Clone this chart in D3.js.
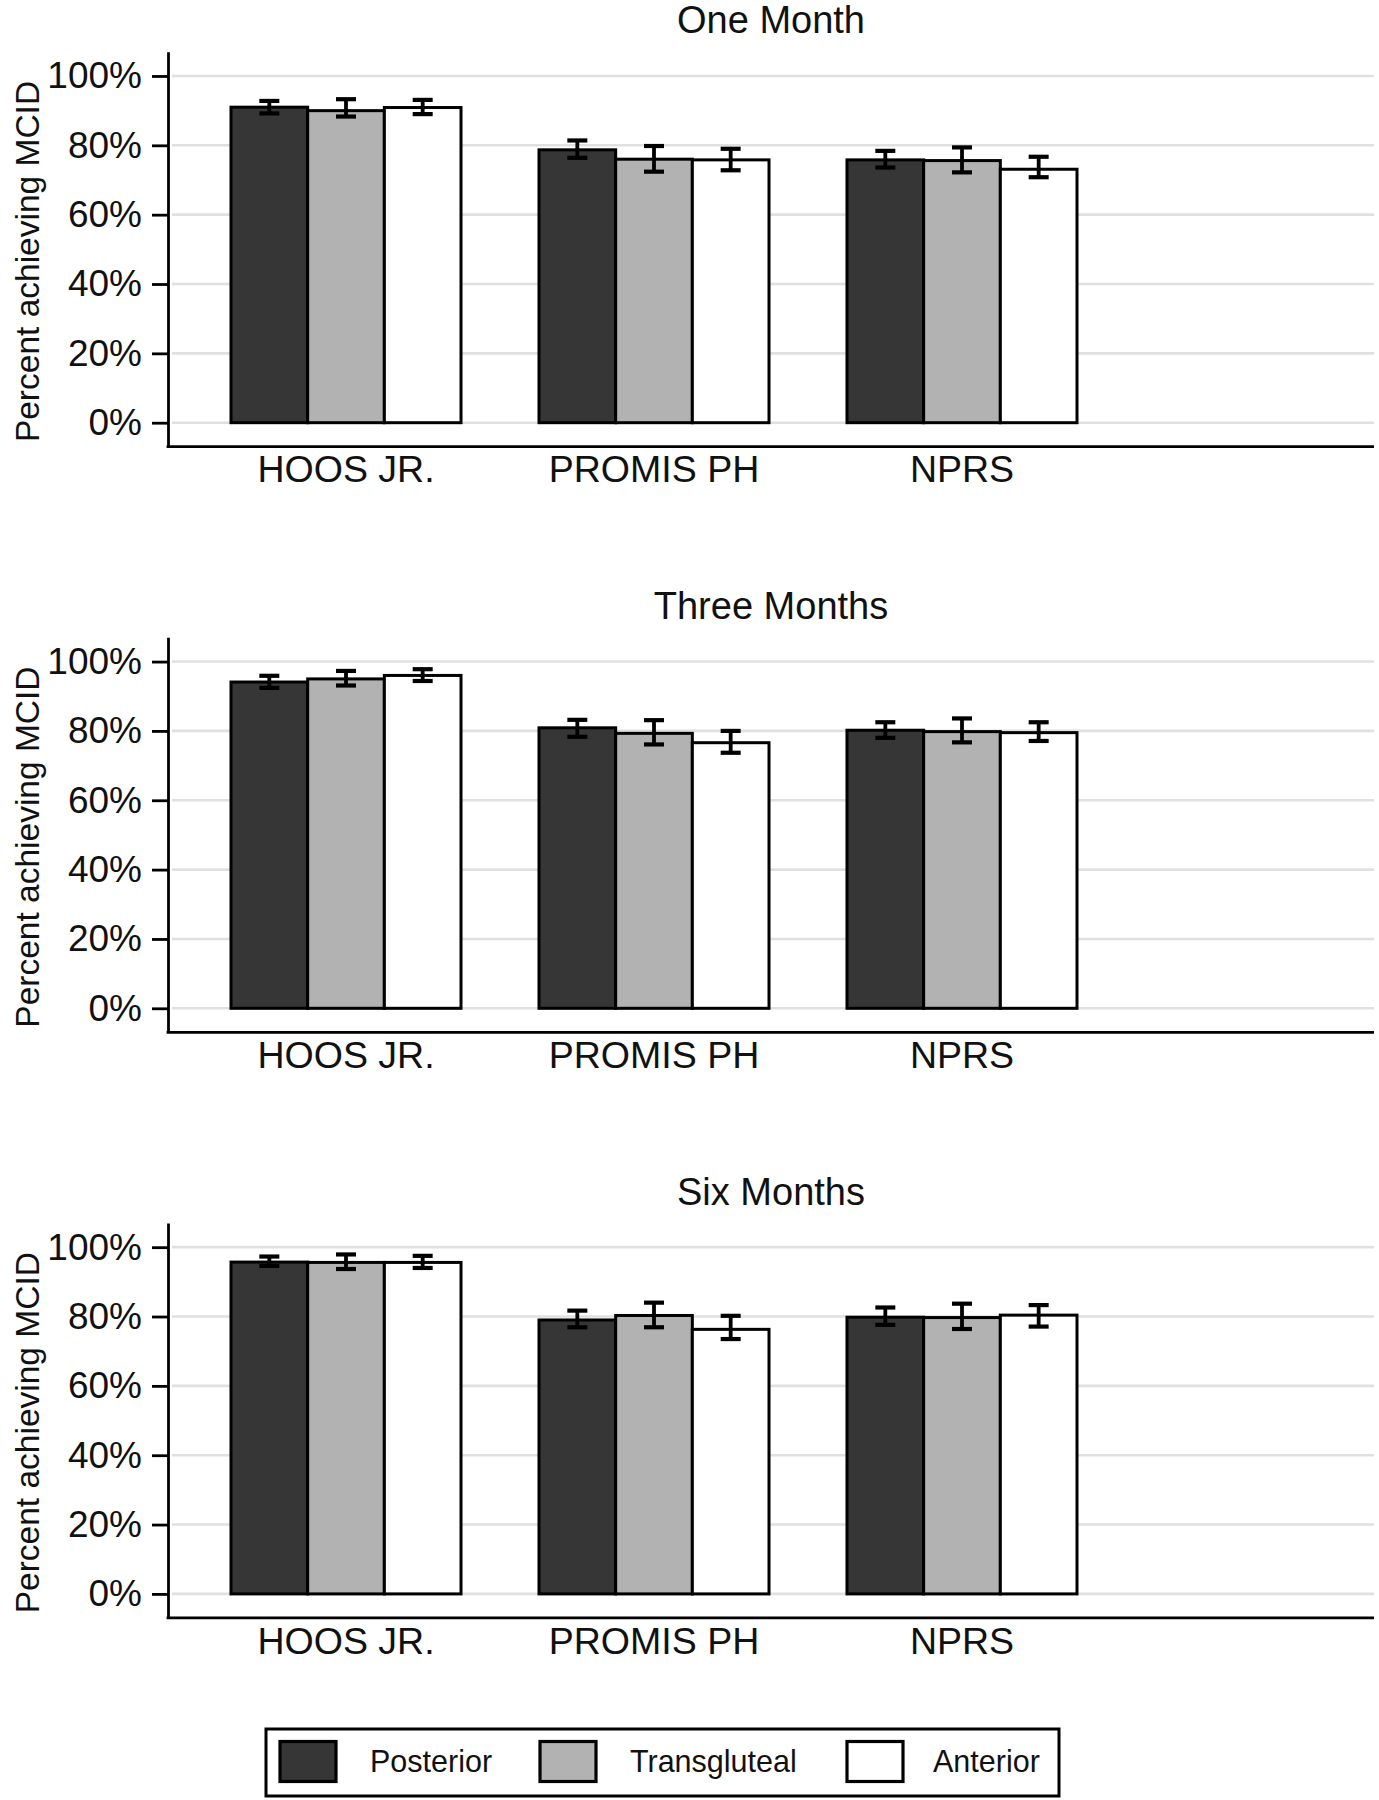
<!DOCTYPE html>
<html>
<head>
<meta charset="utf-8">
<script src="https://cdn.jsdelivr.net/npm/d3@7"></script>
<style>
  html, body { margin: 0; padding: 0; background: #fff; }
  svg { display: block; font-family: "Liberation Sans", Arial, sans-serif; }
</style>
</head>
<body>
<svg id="chart" width="1379" height="1800"></svg>
<script>
// ---------- data ----------
const categories = ["HOOS JR.", "PROMIS PH", "NPRS"];
const seriesNames = ["Posterior", "Transgluteal", "Anterior"];
const seriesColors = ["#363636", "#b2b2b2", "#ffffff"];
const panelTitles = ["One Month", "Three Months", "Six Months"];
const yTicks = [0, 20, 40, 60, 80, 100];
const yTitle = "Percent achieving MCID";

// rows = series (Posterior, Transgluteal, Anterior), cols = categories
const meanOneMonth = [[91.0, 78.7, 75.8], [90.0, 76.0, 75.6], [90.9, 75.8, 73.1]];
const lowOneMonth  = [[89.2, 76.4, 73.6], [88.3, 72.4, 72.2], [89.0, 72.8, 70.8]];
const highOneMonth = [[92.8, 81.4, 78.4], [93.3, 79.8, 79.4], [93.1, 79.0, 76.7]];

const meanThreeMonths = [[94.1, 80.9, 80.2], [95.0, 79.3, 79.8], [96.0, 76.6, 79.5]];
const lowThreeMonths  = [[92.4, 78.3, 78.0], [93.1, 76.1, 76.7], [94.4, 73.7, 77.1]];
const highThreeMonths = [[95.9, 83.2, 82.5], [97.3, 83.1, 83.6], [97.8, 80.0, 82.5]];

const meanSixMonths = [[95.7, 79.0, 79.8], [95.6, 80.3, 79.7], [95.6, 76.3, 80.4]];
const lowSixMonths  = [[94.6, 76.9, 77.6], [93.7, 76.9, 76.4], [94.0, 73.5, 77.1]];
const highSixMonths = [[97.3, 81.7, 82.6], [97.9, 84.0, 83.7], [97.5, 80.2, 83.3]];

const panelMeans = [meanOneMonth, meanThreeMonths, meanSixMonths];
const panelLows  = [lowOneMonth, lowThreeMonths, lowSixMonths];
const panelHighs = [highOneMonth, highThreeMonths, highSixMonths];

// ---------- layout ----------
const svg = d3.select("#chart");
const panelStep = 585.6;
const axisX = 168, plotRight = 1374;
const axisTop = 51.7, axisBottom = 446.7;

const x = d3.scaleBand().domain(categories).range([231, 1077]).paddingInner(0.2532).paddingOuter(0);
const xs = d3.scaleBand().domain(seriesNames).range([0, x.bandwidth()]).padding(0);
const y = d3.scaleLinear().domain([-6.92, 107.0]).range([axisBottom, axisTop]);
const color = d3.scaleOrdinal().domain(seriesNames).range(seriesColors);

panelTitles.forEach((title, p) => {
  const g = svg.append("g").attr("transform", `translate(0,${p * panelStep})`);

  // title
  g.append("text").attr("x", (axisX + plotRight) / 2).attr("y", 33.3)
    .attr("text-anchor", "middle").attr("font-size", 38).attr("fill", "#111")
    .text(title);

  // y title
  g.append("text").attr("transform", `translate(38.5,261.5) rotate(-90)`)
    .attr("text-anchor", "middle").attr("font-size", 33.5).attr("fill", "#111")
    .text(yTitle);

  // gridlines
  g.append("g").selectAll("line").data(yTicks).join("line")
    .attr("x1", axisX + 4).attr("x2", plotRight)
    .attr("y1", d => y(d)).attr("y2", d => y(d))
    .attr("stroke", "#e0e0e0").attr("stroke-width", 2.6);

  // bars
  const mean = panelMeans[p], lo = panelLows[p], hi = panelHighs[p];
  const rows = [];
  seriesNames.forEach((s, si) => categories.forEach((c, ci) => {
    rows.push({ s, c, v: mean[si][ci], lo: lo[si][ci], hi: hi[si][ci] });
  }));

  g.append("g").selectAll("rect").data(rows).join("rect")
    .attr("x", d => x(d.c) + xs(d.s))
    .attr("y", d => y(d.v))
    .attr("width", xs.bandwidth())
    .attr("height", d => y(0) - y(d.v))
    .attr("fill", d => color(d.s))
    .attr("stroke", "#000").attr("stroke-width", 3);

  // error bars
  const eb = g.append("g").attr("stroke", "#000").attr("stroke-width", 3.8);
  const cx = d => x(d.c) + xs(d.s) + xs.bandwidth() / 2;
  eb.selectAll("line.v").data(rows).join("line").attr("class", "v")
    .attr("x1", cx).attr("x2", cx).attr("y1", d => y(d.lo)).attr("y2", d => y(d.hi));
  eb.selectAll("line.t").data(rows).join("line").attr("class", "t")
    .attr("x1", d => cx(d) - 10).attr("x2", d => cx(d) + 10)
    .attr("y1", d => y(d.hi)).attr("y2", d => y(d.hi)).attr("stroke-width", 4.2);
  eb.selectAll("line.b").data(rows).join("line").attr("class", "b")
    .attr("x1", d => cx(d) - 10).attr("x2", d => cx(d) + 10)
    .attr("y1", d => y(d.lo)).attr("y2", d => y(d.lo)).attr("stroke-width", 4.2);

  // y axis
  const yAxis = g.append("g").attr("transform", `translate(${axisX},0)`)
    .call(d3.axisLeft(y).tickValues(yTicks).tickFormat(d => d + "%").tickSize(16).tickPadding(10).tickSizeOuter(0));
  yAxis.select(".domain").attr("stroke", "#000").attr("stroke-width", 2.8);
  yAxis.selectAll(".tick line").attr("stroke", "#000").attr("stroke-width", 2.8);
  yAxis.selectAll(".tick text").attr("font-size", 37).attr("fill", "#111")
    .attr("font-family", "Liberation Sans, Arial, sans-serif");

  // x axis
  const xAxis = g.append("g").attr("transform", `translate(0,${axisBottom})`)
    .call(d3.axisBottom(x).tickSize(0).tickPadding(10).tickSizeOuter(0));
  xAxis.select(".domain").remove();
  xAxis.selectAll(".tick text").attr("font-size", 37.5).attr("fill", "#111")
    .attr("font-family", "Liberation Sans, Arial, sans-serif")
    .attr("dy", null).attr("y", 35.8);
  g.append("line").attr("x1", axisX - 1.4).attr("x2", plotRight)
    .attr("y1", axisBottom).attr("y2", axisBottom)
    .attr("stroke", "#000").attr("stroke-width", 2.8);
});

// ---------- legend ----------
const lg = svg.append("g");
lg.append("rect").attr("x", 266).attr("y", 1729).attr("width", 793).attr("height", 67)
  .attr("fill", "#fff").attr("stroke", "#000").attr("stroke-width", 3);
const swatchX = [280, 540, 847];
const textX = [370, 630, 933];
seriesNames.forEach((s, i) => {
  lg.append("rect").attr("x", swatchX[i]).attr("y", 1741.5).attr("width", 56).attr("height", 40)
    .attr("fill", color(s)).attr("stroke", "#000").attr("stroke-width", 3.2);
  lg.append("text").attr("x", textX[i]).attr("y", 1771.5).attr("font-size", 30.5)
    .attr("fill", "#111").text(s);
});
</script>
</body>
</html>
